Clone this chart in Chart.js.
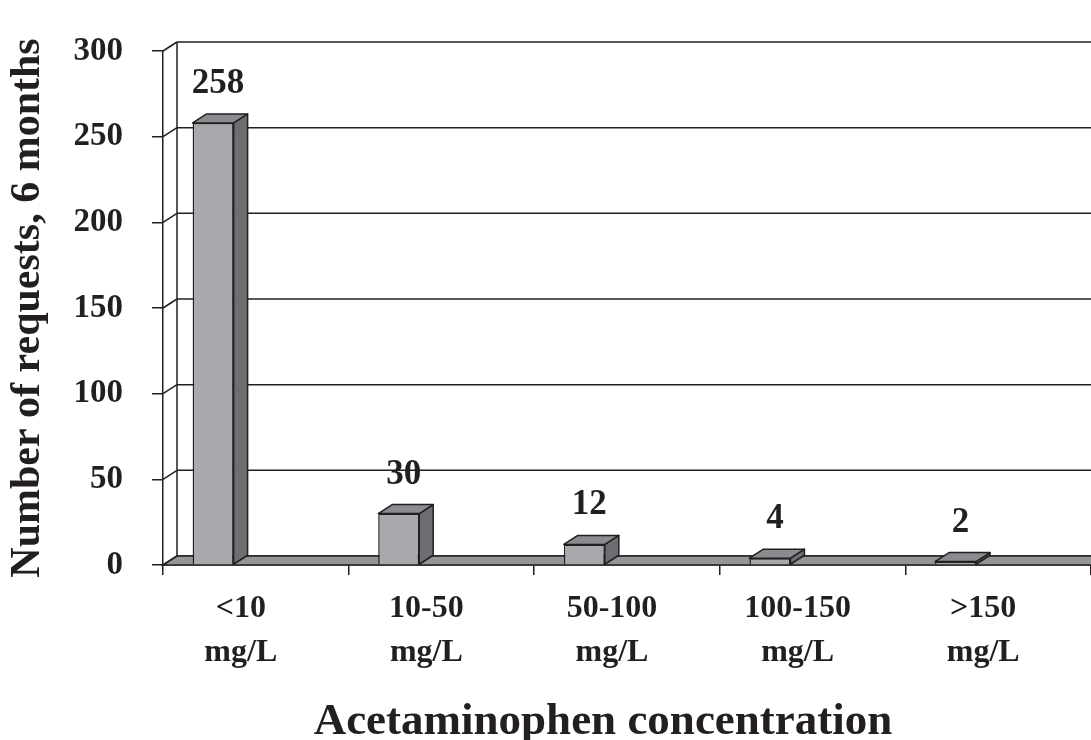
<!DOCTYPE html>
<html><head><meta charset="utf-8">
<script src="https://cdn.jsdelivr.net/npm/chart.js@4/dist/chart.umd.min.js"></script>
<style>html,body{margin:0;padding:0;background:#fff}#wrap{width:1091px;height:740px;position:relative}</style>
</head><body><div id="wrap"><canvas id="c"></canvas></div>
<script>
const categories = [['<10','mg/L'],['10-50','mg/L'],['50-100','mg/L'],['100-150','mg/L'],['>150','mg/L']];
const requests = [258, 30, 12, 4, 2];
const yTicks = [0, 50, 100, 150, 200, 250, 300];
const yTitle = 'Number of requests, 6 months';
const xTitle = 'Acetaminophen concentration';

const INK = '#231f20';
const FRONT = '#a7a9ac', SIDE = '#6d6e71', TOP = '#8a8c8f', FLOOR = '#939598';
const DX = 14, DY = -9;
const SERIF = '"Liberation Serif", "Times New Roman", serif';

function poly(ctx, pts, fill) {
  ctx.beginPath();
  ctx.moveTo(pts[0][0], pts[0][1]);
  for (let i = 1; i < pts.length; i++) ctx.lineTo(pts[i][0], pts[i][1]);
  ctx.closePath();
  if (fill) { ctx.fillStyle = fill; ctx.fill(); }
  ctx.stroke();
}
function line(ctx, x1, y1, x2, y2) {
  ctx.beginPath(); ctx.moveTo(x1, y1); ctx.lineTo(x2, y2); ctx.stroke();
}

const threeD = {
  id: 'threeD',
  afterDatasetsUpdate(chart) {
    const xs = chart.scales.x;
    const cw = xs.width / categories.length;
    chart.getDatasetMeta(0).data.forEach(el => { el.x -= 0.23 * cw; });
  },
  beforeDatasetsDraw(chart) {
    const { ctx, chartArea: a, scales: { y } } = chart;
    ctx.save();
    ctx.strokeStyle = INK; ctx.lineWidth = 1.5;
    yTicks.forEach(v => {
      const py = y.getPixelForValue(v);
      line(ctx, a.left, py, a.left + DX, py + DY);
      line(ctx, a.left + DX, py + DY, a.right, py + DY);
    });
    line(ctx, a.left + DX, y.getPixelForValue(yTicks[yTicks.length - 1]) + DY, a.left + DX, y.getPixelForValue(0) + DY);
    const y0 = y.getPixelForValue(0);
    poly(ctx, [[a.left, y0], [a.left + DX, y0 + DY], [a.right + 2, y0 + DY], [a.right + 2, y0]], FLOOR);
    ctx.restore();
  },
  afterDatasetsDraw(chart) {
    const { ctx } = chart;
    ctx.save();
    ctx.strokeStyle = INK; ctx.lineWidth = 1.5; ctx.lineJoin = 'round';
    chart.getDatasetMeta(0).data.forEach((el, i) => {
      const { x, y, base, width } = el.getProps(['x', 'y', 'base', 'width'], true);
      const l = x - width / 2, r = x + width / 2;
      poly(ctx, [[r, y], [r + DX, y + DY], [r + DX, base + DY], [r, base]], SIDE);
      poly(ctx, [[l, y], [l + DX, y + DY], [r + DX, y + DY], [r, y]], TOP);
      ctx.fillStyle = INK;
      ctx.font = 'bold 35px ' + SERIF;
      ctx.textAlign = 'center'; ctx.textBaseline = 'alphabetic';
      ctx.fillText(String(requests[i]), x + 5, y + DY - 21);
    });
    ctx.restore();
  },
  afterDraw(chart) {
    const { ctx, chartArea: a } = chart;
    ctx.save();
    ctx.fillStyle = INK;
    ctx.font = 'bold 45px ' + SERIF;
    ctx.textAlign = 'center'; ctx.textBaseline = 'alphabetic';
    ctx.fillText(xTitle, (a.left + a.right) / 2 - 24, 734);
    ctx.restore();
  }
};

new Chart(document.getElementById('c'), {
  type: 'bar',
  data: {
    labels: categories,
    datasets: [{
      data: requests,
      backgroundColor: FRONT,
      borderColor: INK,
      borderWidth: 1.5,
      categoryPercentage: 1,
      barPercentage: 0.221
    }]
  },
  options: {
    responsive: true,
    maintainAspectRatio: false,
    animation: false,
    layout: { padding: { top: 51, right: 0, bottom: 0, left: 0 } },
    plugins: { legend: { display: false }, tooltip: { enabled: false } },
    scales: {
      x: {
        grid: { offset: true, drawOnChartArea: false, drawTicks: true, tickLength: 10, color: INK, lineWidth: 1.5 },
        border: { display: true, color: INK, width: 1.5 },
        ticks: { color: INK, font: { family: SERIF, size: 32, weight: 'bold', lineHeight: 1.375 }, padding: 12, labelOffset: -15, maxRotation: 0, autoSkip: false },
        afterFit(s) { s.height = 175; }
      },
      y: {
        min: 0, max: 300,
        ticks: { stepSize: 50, color: INK, font: { family: SERIF, size: 33, weight: 'bold' }, padding: 29 },
        grid: { drawOnChartArea: false, drawTicks: true, tickLength: 11, color: INK, lineWidth: 1.5 },
        border: { display: true, color: INK, width: 1.5 },
        title: { display: true, text: yTitle, color: INK, font: { family: SERIF, size: 42, weight: 'bold', lineHeight: 1.2 }, padding: { top: 3, bottom: 0 } },
        afterFit(s) { s.width = 163; }
      }
    }
  },
  plugins: [threeD]
});
</script>
</body></html>
